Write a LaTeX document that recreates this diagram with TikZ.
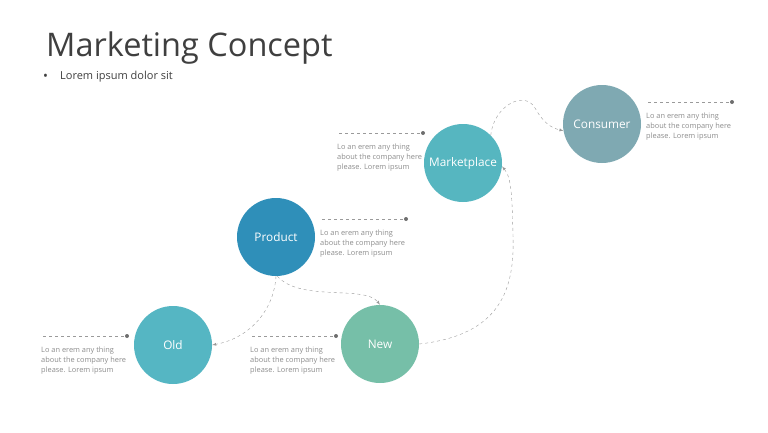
\documentclass[tikz,border=0pt]{standalone}
\usepackage{fontspec}
\setmainfont{Open Sans}
\usepackage{tikz}
\usetikzlibrary{calc, arrows, positioning}

\definecolor{ink}{HTML}{3F3F3F}
\definecolor{notegray}{HTML}{8C8C8C}
\definecolor{linegray}{HTML}{9A9A9A}
\definecolor{dotgray}{HTML}{6E6E6E}
\definecolor{consumerc}{HTML}{7FA9B2}
\definecolor{marketc}{HTML}{56B6C0}
\definecolor{productc}{HTML}{2F8FB9}
\definecolor{oldc}{HTML}{55B6C3}
\definecolor{newc}{HTML}{76BFA8}

\tikzset{
    bubble/.style={circle, minimum size=78pt, inner sep=0pt, text=white, font=\fontsize{11.8}{14}\selectfont},
    link/.style={draw=linegray, dashed, -latex},
    lead/.style={draw=linegray, dashed},
    dot/.style={circle, fill=dotgray, minimum size=4pt, inner sep=0pt},
    note/.style={anchor=north west, align=left, inner sep=0pt, text=notegray, font=\fontsize{7.4}{10}\selectfont}
}

\begin{document}
\begin{tikzpicture}[x=1pt, y=-1pt]
    \useasboundingbox (0,0) rectangle (768,432);

    % title
    \node[anchor=base west, inner sep=0pt, text=ink, font=\fontsize{32.5}{38}\selectfont] (title) at (46,56) {Marketing Concept};
    \node[anchor=base west, inner sep=0pt, text=ink, font=\fontsize{13}{14}\selectfont] (bullet) at (43,80) {•};
    \node[anchor=base west, inner sep=0pt, text=ink, font=\fontsize{11}{13}\selectfont] (subtitle) at (60,79) {Lorem ipsum dolor sit};

    % bubbles
    \node[bubble, fill=consumerc] (consumer) at (602,124) {Consumer};
    \node[bubble, fill=marketc] (marketplace) at (463,163) {Marketplace};
    \node[bubble, fill=productc] (product) at (276,237) {Product};
    \node[bubble, fill=oldc] (old) at (173,345) {Old};
    \node[bubble, fill=newc] (new) at (380,344) {New};

    % notes
    \foreach \name/\x/\y in {consumer/648/102, marketplace/339/133, product/322/219, new/252/336, old/43/336} {
        \coordinate (\name-lead) at (\x,\y);
        \node[dot] (\name-dot) at (\x+84,\y) {};
        \draw[lead] (\name-lead) -- (\name-dot);
        \node[note] (\name-note) at (\x-2,\y+10.5) {Lo an erem any thing\\about the company here\\please. Lorem ipsum};
    };

    % links
    \draw[link] (product.south) .. controls (274,310) and (250,338) .. (old.east);
    \draw[link] (product.-88) .. controls (300,302) and (365,285) .. (new.north);
    \draw[link] (new.east) .. controls (500,335) and (515,290) .. (513,235) .. controls (512,200) and (512,178) .. (marketplace.-5);
    \draw[link] (marketplace.45) .. controls (494,105) and (525,90) .. (535,108) .. controls (544,124) and (552,128) .. (consumer.190);
\end{tikzpicture}
\end{document}
